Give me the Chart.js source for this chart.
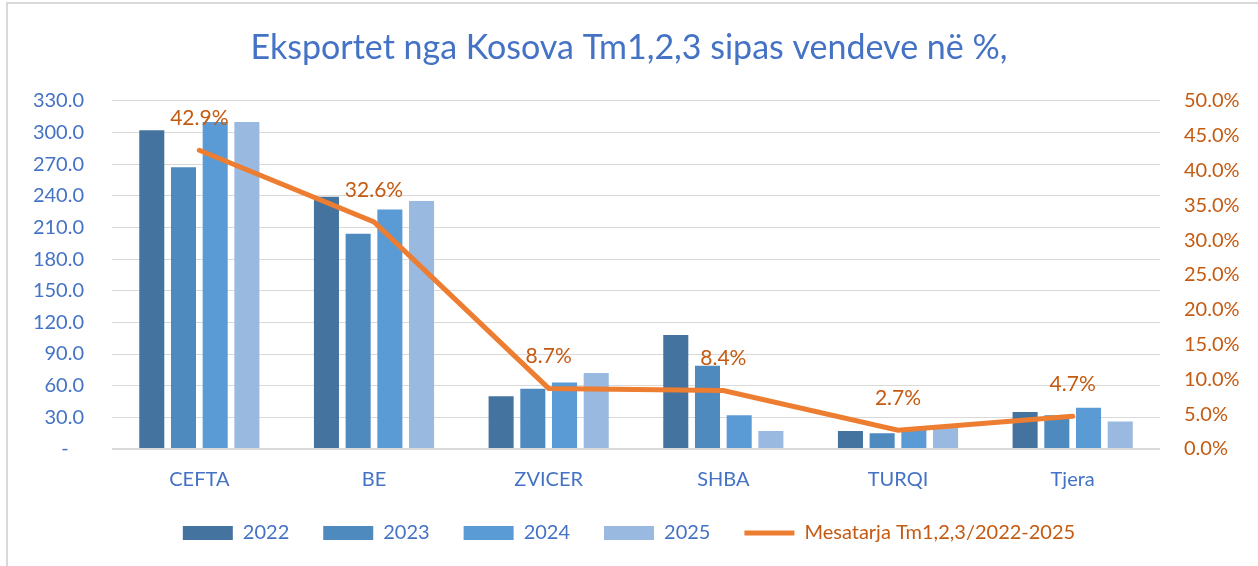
<!DOCTYPE html>
<html>
<head>
<meta charset="utf-8">
<script src="https://cdn.jsdelivr.net/npm/chart.js@4"></script>
<style>
  html, body { margin: 0; padding: 0; background: #fff; }
  #wrap { position: relative; width: 1258px; height: 566px; }
  #frame {
    position: absolute; left: 6px; top: 2px; right: 0; bottom: 0;
    border-left: 2px solid #d9d9d9; border-top: 2px solid #d9d9d9;
    pointer-events: none;
  }
</style>
</head>
<body>
<div id="wrap">
  <canvas id="exports" width="1258" height="566"></canvas>
  <div id="frame"></div>
</div>
<script>
// values
const countries = ["CEFTA", "BE", "ZVICER", "SHBA", "TURQI", "Tjera"];
const exp2022 = [302, 239, 50, 108, 17, 35];
const exp2023 = [267, 204, 57, 79, 15, 32];
const exp2024 = [310, 227, 63, 32, 19, 39];
const exp2025 = [310, 235, 72, 17, 20, 26];
const avgShare = [42.9, 32.6, 8.7, 8.4, 2.7, 4.7];

const FONT = "Lato, 'Open Sans', sans-serif";
const BLUE_TEXT = "#4472C4";
const ORANGE_TEXT = "#C55A11";

// draws the % labels above the orange line
const lineLabels = {
  id: "lineLabels",
  afterDatasetsDraw(chart) {
    const meta = chart.getDatasetMeta(4);
    const c = chart.ctx;
    c.save();
    c.font = "21px " + FONT;
    c.fillStyle = ORANGE_TEXT;
    c.textAlign = "center";
    c.textBaseline = "middle";
    meta.data.forEach((pt, i) => {
      c.fillText(avgShare[i].toFixed(1) + "%", pt.x, pt.y - 32);
    });
    c.restore();
  },
};

// the x axis box is kept short so the legend sits high,
// let its labels draw past the box instead of being clipped
const xLabelRoom = {
  id: "xLabelRoom",
  afterLayout(chart) {
    chart.scales.x.bottom += 30;
  },
};

function barSet(label, data, color) {
  return {
    type: "bar",
    label: label,
    data: data,
    backgroundColor: color,
    borderWidth: 0,
    pointStyle: "rect",
    yAxisID: "y",
    order: 1,
    categoryPercentage: 0.726,
    barPercentage: 0.79,
  };
}

const ctx = document.getElementById("exports");

new Chart(ctx, {
  data: {
    labels: countries,
    datasets: [
      barSet("2022", exp2022, "#44739F"),
      barSet("2023", exp2023, "#4F8ABE"),
      barSet("2024", exp2024, "#5B9BD5"),
      barSet("2025", exp2025, "#99B9E0"),
      {
        type: "line",
        label: "Mesatarja Tm1,2,3/2022-2025",
        data: avgShare,
        borderColor: "#ED7D31",
        backgroundColor: "#ED7D31",
        borderWidth: 5,
        borderCapStyle: "round",
        pointRadius: 0,
        pointStyle: "line",
        tension: 0,
        yAxisID: "y1",
        order: 0,
      },
    ],
  },
  options: {
    responsive: false,
    animation: false,
    devicePixelRatio: 1,
    layout: { padding: { top: 0, left: 0, right: 0, bottom: 13 } },
    plugins: {
      tooltip: { enabled: false },
      title: {
        display: true,
        text: "Eksportet nga Kosova Tm1,2,3 sipas vendeve në %,",
        color: BLUE_TEXT,
        font: { family: FONT, size: 34, weight: "normal" },
        padding: { top: 28, bottom: 32 },
      },
      legend: {
        position: "bottom",
        labels: {
          usePointStyle: true,
          pointStyleWidth: 50,
          boxHeight: 14,
          padding: 34,
          color: BLUE_TEXT,
          font: { family: FONT, size: 20 },
          sort: (a, b) => a.datasetIndex - b.datasetIndex,
          generateLabels(chart) {
            const items = Chart.defaults.plugins.legend.labels.generateLabels(chart);
            items.forEach((it) => {
              if (it.datasetIndex === 4) it.fontColor = ORANGE_TEXT;
            });
            return items;
          },
        },
      },
    },
    scales: {
      x: {
        grid: { display: false },
        border: { display: false },
        ticks: {
          color: BLUE_TEXT,
          font: { family: FONT, size: 20 },
          padding: 11,
        },
        afterFit: (s) => { s.height = 40; },
      },
      y: {
        position: "left",
        min: 0,
        max: 330,
        grid: {
          color: "#D9D9D9",
          lineWidth: (c) => (c.tick && c.tick.value === 0 ? 2 : 1),
          drawTicks: false,
        },
        border: { display: false },
        ticks: {
          stepSize: 30,
          padding: 28,
          color: BLUE_TEXT,
          font: { family: FONT, size: 20 },
          callback: (value) => (value === 0 ? "-   " : value.toFixed(1)),
        },
        afterFit: (s) => { s.width = 112; },
      },
      y1: {
        position: "right",
        min: 0,
        max: 50,
        grid: { drawOnChartArea: false, drawTicks: false },
        border: { display: false },
        ticks: {
          stepSize: 5,
          padding: 24,
          color: ORANGE_TEXT,
          font: { family: FONT, size: 20 },
          callback: (value) => value.toFixed(1) + "%",
        },
        afterFit: (s) => { s.width = 98; },
      },
    },
  },
  plugins: [lineLabels, xLabelRoom],
});
</script>
</body>
</html>
